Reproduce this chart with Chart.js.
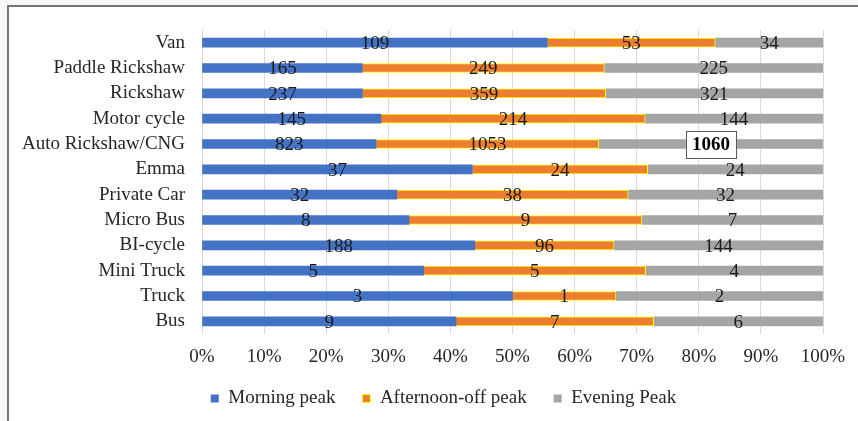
<!DOCTYPE html>
<html>
<head>
<meta charset="utf-8">
<script src="https://cdn.jsdelivr.net/npm/chart.js@4/dist/chart.umd.min.js"></script>
<style>
  html, body { margin: 0; padding: 0; background: #f8f8f6; }
  #c { display: block; }
</style>
</head>
<body>
<canvas id="c" width="858" height="421"></canvas>
<script>
// Vehicle counts by time of day
const categories = ['Van', 'Paddle Rickshaw', 'Rickshaw', 'Motor cycle', 'Auto Rickshaw/CNG', 'Emma',
  'Private Car', 'Micro Bus', 'BI-cycle', 'Mini Truck', 'Truck', 'Bus'];
const morningPeak   = [109, 165, 237, 145, 823, 37, 32, 8, 188, 5, 3, 9];
const afternoonPeak = [53, 249, 359, 214, 1053, 24, 38, 9, 96, 5, 1, 7];
const eveningPeak   = [34, 225, 321, 144, 1060, 24, 32, 7, 144, 4, 2, 6];
const seriesNames = ['Morning peak', 'Afternoon-off peak', 'Evening Peak'];
const xTicks = [0, 10, 20, 30, 40, 50, 60, 70, 80, 90, 100];

const FONT = "'Liberation Serif', 'Times New Roman', serif";
const counts = [morningPeak, afternoonPeak, eveningPeak];
const totals = categories.map((_, i) => counts.reduce((s, arr) => s + arr[i], 0));
const toShare = arr => arr.map((v, i) => v / totals[i] * 100);

// boxed label: evening series, Auto Rickshaw/CNG
const boxedLabel = { dataset: 2, index: 4 };

const framePlugin = {
  id: 'frame',
  afterLayout(chart) {
    // centre the legend row under the framed area rather than the whole canvas
    chart.legend.left = 64;
    chart.legend.right = chart.chartArea.right;
  },
  beforeDraw(chart) {
    const ctx = chart.ctx;
    const w = chart.width, h = chart.height;
    ctx.save();
    ctx.fillStyle = '#f8f8f6';
    ctx.fillRect(0, 0, w, h);
    ctx.fillStyle = '#ffffff';
    ctx.fillRect(9, 7, w - 9, h - 7);
    ctx.fillStyle = '#777777';
    ctx.fillRect(7, 5, w - 7, 2);
    ctx.fillRect(7, 5, 2, h - 5);
    ctx.restore();
  }
};

const valueLabels = {
  id: 'valueLabels',
  afterDatasetsDraw(chart) {
    const ctx = chart.ctx;
    ctx.save();
    ctx.textAlign = 'center';
    ctx.textBaseline = 'middle';
    chart.data.datasets.forEach((ds, di) => {
      const meta = chart.getDatasetMeta(di);
      meta.data.forEach((bar, i) => {
        const cx = (bar.x + bar.base) / 2;
        const cy = bar.y + 1.5;
        const text = String(counts[di][i]);
        if (di === boxedLabel.dataset && i === boxedLabel.index) {
          ctx.font = 'bold 19px ' + FONT;
          const tw = ctx.measureText(text).width;
          const bw = tw + 12, bh = 27;
          ctx.fillStyle = '#ffffff';
          ctx.fillRect(cx - bw / 2, bar.y - bh / 2, bw, bh);
          ctx.strokeStyle = '#595959';
          ctx.lineWidth = 1;
          ctx.strokeRect(Math.round(cx - bw / 2) + 0.5, Math.round(bar.y - bh / 2) + 0.5, Math.round(bw), bh);
          ctx.fillStyle = '#000000';
          ctx.fillText(text, cx, cy);
        } else {
          ctx.font = '19px ' + FONT;
          ctx.fillStyle = '#1a1a1a';
          ctx.fillText(text, cx, cy);
        }
      });
    });
    ctx.restore();
  }
};

new Chart(document.getElementById('c'), {
  type: 'bar',
  data: {
    labels: categories,
    datasets: [
      { label: seriesNames[0], data: toShare(morningPeak), backgroundColor: '#4472C4', borderWidth: 0 },
      { label: seriesNames[1], data: toShare(afternoonPeak), backgroundColor: '#ED7D31', borderColor: '#FFFF00', borderWidth: 1 },
      { label: seriesNames[2], data: toShare(eveningPeak), backgroundColor: '#A5A5A5', borderWidth: 0 }
    ]
  },
  options: {
    indexAxis: 'y',
    responsive: false,
    animation: false,
    devicePixelRatio: 1,
    barThickness: 9,
    layout: { padding: { top: 30, right: 35, bottom: 3, left: 0 } },
    scales: {
      x: {
        stacked: true,
        min: 0,
        max: 100,
        afterBuildTicks(scale) { scale.ticks = xTicks.map(v => ({ value: v })); },
        afterFit(scale) { scale.height = 28; },
        grid: { color: '#d9d9d9', lineWidth: 1, drawTicks: false },
        border: { display: false },
        ticks: {
          padding: 12,
          color: '#262626',
          font: { family: FONT, size: 19 },
          callback: v => v + '%'
        }
      },
      y: {
        stacked: true,
        afterFit(scale) { scale.width = 202; },
        grid: { display: false },
        border: { display: false },
        ticks: {
          autoSkip: false,
          padding: 9,
          color: '#262626',
          font: { family: FONT, size: 19 }
        }
      }
    },
    plugins: {
      legend: {
        position: 'bottom',
        labels: {
          boxWidth: 8,
          boxHeight: 8,
          padding: 27,
          color: '#262626',
          font: { family: FONT, size: 19 }
        }
      },
      tooltip: { enabled: false }
    }
  },
  plugins: [framePlugin, valueLabels]
});
</script>
</body>
</html>
